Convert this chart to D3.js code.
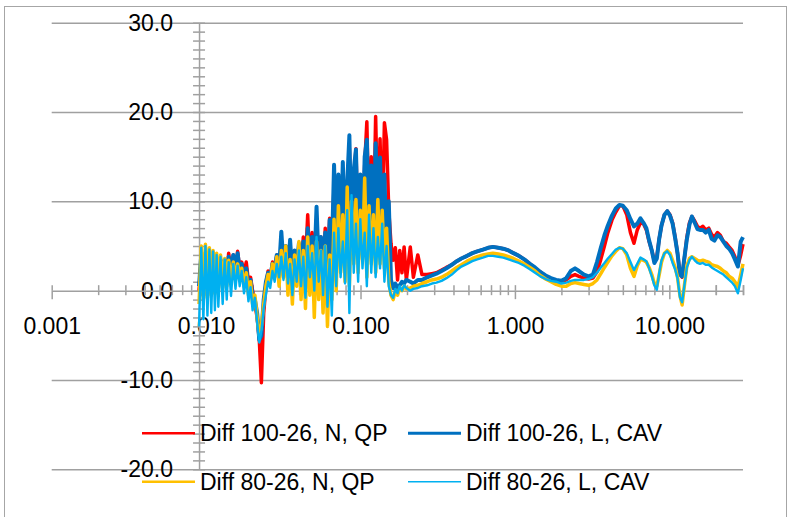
<!DOCTYPE html>
<html>
<head>
<meta charset="utf-8">
<script src="https://cdn.jsdelivr.net/npm/d3@7"></script>
<style>
  body { margin: 0; background: #fff; }
  svg { display: block; }
  text { font-family: "Liberation Sans", Arial, sans-serif; fill: #000; }
</style>
</head>
<body>
<div id="chart"></div>
<script>
// frequencies (MHz), noisy low band then the smoother upper band
var freq = [
  0.0090, 0.0093, 0.0096, 0.0099, 0.0102, 0.0105, 0.0108, 0.0111, 0.0114, 0.0117,
  0.0120, 0.0124, 0.0128, 0.0132, 0.0136, 0.0140, 0.0145, 0.0150, 0.0155, 0.0160,
  0.0165, 0.0170, 0.0176, 0.0182, 0.0188, 0.0194, 0.0200, 0.0207, 0.0214, 0.0221,
  0.0228, 0.0236, 0.0244, 0.0252, 0.0260, 0.0269, 0.0278, 0.0287, 0.0297, 0.0307,
  0.0317, 0.0328, 0.0339, 0.0350, 0.0362, 0.0374, 0.0386, 0.0399, 0.0412, 0.0426,
  0.0440, 0.0455, 0.0470, 0.0486, 0.0502, 0.0519, 0.0536, 0.0554, 0.0572, 0.0591,
  0.0611, 0.0631, 0.0652, 0.0674, 0.0696, 0.0719, 0.0743, 0.0768, 0.0794, 0.0820,
  0.0847, 0.0875, 0.0904, 0.0934, 0.0965, 0.0997, 0.1030, 0.1064, 0.1099, 0.1136,
  0.1174, 0.1213, 0.1253, 0.1295, 0.1338, 0.1382, 0.1428, 0.1475, 0.1524, 0.1575,
  0.1627, 0.1681, 0.1737, 0.1795, 0.1855, 0.1916, 0.1980,
  0.21, 0.22, 0.235, 0.25, 0.27, 0.29, 0.31, 0.335, 0.36, 0.39,
  0.42, 0.45, 0.49, 0.53, 0.57, 0.62, 0.67, 0.72, 0.78, 0.84,
  0.91, 0.98, 1.06, 1.15, 1.25, 1.35, 1.46, 1.58, 1.71, 1.85,
  2.0, 2.15, 2.3, 2.45, 2.6, 2.8, 3.0, 3.2, 3.4, 3.6,
  3.8, 4.0, 4.25, 4.5, 4.75, 5.0, 5.3, 5.6, 5.9, 6.2,
  6.5, 6.8, 7.1, 7.4, 7.7, 8.0, 8.3, 8.6, 8.9, 9.3,
  9.7, 10.1, 10.5, 10.9, 11.3, 11.7, 12.1, 12.5, 13.0, 13.5,
  14.0, 14.6, 15.2, 15.8, 16.5, 17.2, 18.0, 18.8, 19.6, 20.5,
  21.4, 22.4, 23.4, 24.4, 25.5, 26.6, 27.8, 29.0, 30.0
];

var diff100N = [
  0.0, 3.5, -0.5, 3.8, 0.0, 3.6, 0.5, 3.5, 0.5, 3.4,
  1.0, 3.2, 1.2, 3.5, 1.5, 4.2, 2.0, 4.0, 2.0, 4.4,
  2.5, 3.2, 2.0, 3.2, 1.0, 1.5, 0.0, -1.5, -3.0, -5.5,
  -10.3, -2.5, 0.5, 2.2, 1.0, 3.2, 2.0, 4.0, 1.5, 5.5,
  2.5, 4.5, 1.0, 5.0, 0.5, 4.0, 2.0, 5.0, 1.5, 6.0,
  3.0, 8.5, 2.5, 6.5, 3.0, 8.0, 2.5, 6.0, 1.5, 7.0,
  2.0, 8.1, 4.0, 12.0, 4.5, 11.5, 5.0, 13.0, 5.5, 11.0,
  16.0, 6.0, 12.0, 15.9, 5.5, 12.5, 6.0, 14.0, 18.9, 7.0,
  15.0, 6.5, 19.5, 8.0, 17.0, 6.5, 18.8, 16.9, 9.0, 5.3,
  3.4, 4.8, 1.2, 4.5, 2.0, 4.9, 1.2,
  4.9, 1.5, 4.0, 1.8, 1.8, 1.9, 2.0, 2.3, 2.6, 2.9,
  3.3, 3.6, 3.9, 4.2, 4.4, 4.6, 4.8, 4.9, 4.8, 4.7,
  4.5, 4.2, 3.9, 3.5, 3.0, 2.5, 2.1, 1.6, 1.3, 1.0,
  1.0, 1.2, 1.6, 1.8, 1.6, 1.4, 1.3, 1.4, 2.1, 3.5,
  5.0, 6.5, 7.9, 8.8, 9.5, 9.5, 8.5, 6.5, 5.3, 6.8,
  7.6, 7.5, 6.8, 5.5, 4.5, 3.3, 3.8, 5.8, 7.3, 8.5,
  8.9, 8.5, 7.6, 6.0, 4.2, 2.0, 1.5, 3.5, 6.0, 7.6,
  8.3, 7.8, 7.2, 7.0, 7.2, 6.8, 7.0, 6.3, 6.0, 6.5,
  6.2, 5.5, 5.3, 4.9, 4.5, 3.8, 2.8, 4.0, 5.2
];

var diff100L = [
  0.5, 4.0, -0.5, 4.2, 0.0, 4.0, 0.5, 3.8, 0.8, 3.6,
  1.0, 3.5, 1.2, 3.4, 1.5, 3.8, 1.8, 4.0, 2.0, 4.2,
  2.2, 3.0, 1.5, 2.5, 0.5, 1.2, -0.5, -1.0, -2.5, -5.5,
  -5.0, -1.0, 1.0, 2.0, 1.5, 3.0, 2.5, 4.0, 2.5, 6.6,
  3.0, 5.0, 2.0, 5.7, 1.5, 4.5, 2.5, 5.3, 2.0, 5.5,
  1.5, 7.0, 3.0, 6.0, 2.5, 9.4, 3.0, 6.0, 2.0, 6.5,
  1.5, 7.9, 4.0, 14.1, 5.0, 13.0, 4.5, 14.4, 6.0, 12.0,
  17.4, 5.0, 13.5, 15.8, 6.0, 13.0, 5.5, 15.0, 16.9, 6.5,
  14.0, 5.0, 16.5, 7.0, 14.9, 5.5, 13.0, 4.0, 10.0, 1.2,
  0.3, 0.8, 0.3, 0.6, 1.0, 0.8, 1.2,
  1.0, 0.8, 1.2, 1.2, 1.5, 1.7, 1.9, 2.2, 2.5, 2.9,
  3.3, 3.6, 3.9, 4.2, 4.4, 4.6, 4.8, 4.9, 4.8, 4.7,
  4.5, 4.2, 3.9, 3.5, 3.0, 2.6, 2.1, 1.7, 1.4, 1.2,
  1.1, 1.4, 2.2, 2.5, 2.2, 1.8, 1.6, 1.8, 3.2, 4.8,
  6.2, 7.3, 8.4, 9.2, 9.6, 9.5, 9.0, 8.0, 7.2, 7.5,
  8.1, 7.6, 7.0, 5.6, 4.5, 3.1, 3.6, 5.8, 7.3, 8.5,
  8.9, 8.4, 7.5, 5.9, 4.2, 1.8, 1.6, 3.6, 5.8, 7.4,
  8.3, 7.6, 6.9, 6.8, 6.8, 6.5, 6.8, 5.8, 5.6, 6.2,
  6.0, 5.5, 5.0, 4.7, 4.2, 3.5, 2.7, 5.5, 6.0
];

var diff80N = [
  -1.5, 5.0, -1.0, 5.2, -0.8, 4.8, -0.5, 4.5, -0.3, 4.2,
  0.0, 4.0, 0.3, 3.6, 0.5, 3.4, 0.8, 3.2, 1.2, 3.0,
  1.5, 2.5, 0.5, 2.0, -0.5, 1.0, -1.5, -0.5, -3.0, -5.0,
  -4.0, -1.5, 0.5, 1.8, 1.0, 3.0, 1.5, 3.8, 0.5, 4.5,
  1.5, 5.0, -0.5, 3.5, -1.5, 4.0, 0.5, 5.5, -1.0, 4.5,
  -2.0, 6.0, -0.5, 5.0, -3.0, 5.5, -1.0, 4.5, -2.5, 5.0,
  -4.0, 4.0, -1.0, 8.0, 0.0, 9.5, 2.0, 8.5, 1.0, 11.6,
  0.5, 10.0, 3.0, 10.2, 2.0, 9.0, 3.5, 12.6, 1.5, 9.5,
  3.0, 8.5, 2.0, 10.2, 3.0, 9.0, 2.5, 7.0, 1.0, -0.5,
  -1.0, 0.0, -0.5, 0.3, 0.0, 0.5, 0.2,
  0.3, 0.5, 0.6, 0.8, 1.0, 1.2, 1.3, 1.5, 1.8, 2.2,
  2.6, 2.9, 3.3, 3.6, 3.8, 4.0, 4.1, 4.2, 4.1, 4.0,
  3.8, 3.6, 3.3, 3.0, 2.6, 2.2, 1.7, 1.3, 1.0, 0.7,
  0.5, 0.5, 0.8, 0.9, 0.8, 0.7, 0.6, 0.8, 1.2, 1.9,
  2.6, 3.2, 3.9, 4.4, 4.8, 4.7, 4.0, 2.5, 1.6, 2.8,
  3.5, 3.4, 3.2, 2.6, 1.8, 0.8, 0.5, 1.8, 3.2, 4.2,
  4.5, 4.2, 3.4, 2.6, 1.5, -0.5, -1.6, 0.5, 2.8, 3.6,
  3.8, 3.6, 3.4, 3.3, 3.4, 3.3, 3.2, 2.9, 2.8, 2.7,
  2.5, 2.2, 2.0, 1.6, 1.4, 1.0, 0.4, 1.8, 3.0
];

var diff80L = [
  -4.0, 4.8, -3.2, 5.0, -2.8, 4.6, -2.5, 4.4, -2.2, 4.0,
  -1.8, 3.8, -1.5, 3.5, -1.0, 3.2, -0.6, 3.0, 0.2, 2.8,
  0.5, 2.2, -0.3, 1.5, -1.2, 0.4, -2.2, -0.8, -3.5, -5.8,
  -4.5, -2.0, -0.5, 1.0, 0.3, 2.2, 1.0, 3.0, 1.5, 3.8,
  1.2, 4.2, 0.8, 3.0, -0.5, 3.5, 1.0, 4.5, 0.5, 3.8,
  -0.8, 5.0, 1.5, 4.2, 0.0, 6.0, 1.0, 4.5, -0.5, 5.0,
  -1.8, 3.5, -2.8, 6.5, 0.5, 7.0, 1.5, 5.5, 0.8, 9.0,
  -2.5, 10.7, 2.0, 7.5, 1.0, 8.0, 2.5, 6.5, 0.5, 8.5,
  2.0, 7.0, 1.5, 6.0, 2.5, 7.5, 1.0, 5.0, 0.5, -0.5,
  -0.8, 0.2, -0.3, 0.5, 0.0, 0.6, 0.3,
  0.0, 0.2, 0.3, 0.5, 0.6, 0.8, 0.9, 1.1, 1.4, 1.8,
  2.3, 2.7, 3.0, 3.3, 3.5, 3.7, 3.9, 3.9, 3.8, 3.7,
  3.5, 3.3, 3.1, 2.8, 2.4, 2.0, 1.6, 1.3, 1.1, 1.0,
  0.8, 0.9, 1.1, 1.2, 1.2, 1.2, 1.3, 1.5, 2.0, 2.6,
  3.1, 3.6, 4.1, 4.6, 4.8, 4.7, 4.2, 3.2, 2.3, 3.0,
  3.7, 3.5, 3.3, 2.5, 1.6, 0.6, 0.1, 2.0, 3.4, 4.2,
  4.4, 4.0, 3.1, 2.4, 1.4, -0.7, -1.3, 0.5, 2.6, 3.4,
  3.8, 3.4, 3.1, 3.0, 3.1, 2.9, 2.9, 2.6, 2.4, 2.2,
  2.0, 1.8, 1.5, 1.2, 0.9, 0.5, -0.3, 1.2, 2.5
];

var seriesNames = ["Diff 100-26, N, QP", "Diff 100-26, L, CAV", "Diff 80-26, N, QP", "Diff 80-26, L, CAV"];
var seriesValues = [diff100N, diff100L, diff80N, diff80L];
var seriesColors = ["#ff0000", "#0070c0", "#ffc000", "#00b0f0"];
var seriesWidths = [3.5, 4, 3.5, 2.4];
var legendWidths = [2.5, 3, 2.5, 1.5];

var xMajorTicks = [0.001, 0.01, 0.1, 1, 10];
var yMajorTicks = [-20, -10, 0, 10, 20, 30];
var yCross = 0.009;   // vertical axis sits here

var W = 789, H = 517;
var svg = d3.select("#chart").append("svg")
  .attr("width", W).attr("height", H);

svg.append("rect")
  .attr("x", 4.5).attr("y", 6.5)
  .attr("width", 782).attr("height", 530)
  .attr("fill", "#fff").attr("stroke", "#a6a6a6").attr("stroke-width", 1);

var x = d3.scaleLog().domain([0.001, 30]).range([51.7, 743]);
var y = d3.scaleLinear().domain([-20, 30]).range([469.3, 22.7]);

var fontSize = 23;
var grey = "#a0a0a0";

// horizontal gridlines
svg.append("g")
  .attr("transform", `translate(${x.range()[0]},0)`)
  .call(d3.axisRight(y).tickValues(yMajorTicks.filter(d => d !== 0))
    .tickSize(x.range()[1] - x.range()[0]).tickFormat(""))
  .call(g => g.select(".domain").remove())
  .call(g => g.selectAll("line").attr("stroke", grey).attr("stroke-width", 1.5));

// x labels
svg.append("g")
  .attr("transform", `translate(0,${y(0)})`)
  .call(d3.axisBottom(x).tickValues(xMajorTicks).tickSize(0).tickPadding(27)
    .tickFormat(d => d.toFixed(3)))
  .call(g => g.select(".domain").remove())
  .call(g => g.selectAll("text").attr("font-size", fontSize).attr("font-family", null));

// y labels
svg.append("g")
  .attr("transform", `translate(${x(yCross)},0)`)
  .call(d3.axisLeft(y).tickValues(yMajorTicks).tickSize(0).tickPadding(26)
    .tickFormat(d => d.toFixed(1)))
  .call(g => g.select(".domain").remove())
  .call(g => g.selectAll("text").attr("font-size", fontSize).attr("font-family", null));

// x axis line with crossing ticks
var xMinor = x.ticks().filter(d => xMajorTicks.indexOf(d) < 0).concat([20, 30]);
function styleTicks(g) {
  g.selectAll("line").attr("stroke", grey).attr("stroke-width", 1.5);
  g.selectAll("text").remove();
}
var xAxisG = svg.append("g").attr("transform", `translate(0,${y(0)})`);
xAxisG.append("g")
  .call(d3.axisBottom(x).tickValues(xMinor).tickSize(4.5).tickSizeOuter(0).tickFormat(""))
  .call(g => g.select(".domain").attr("stroke", grey).attr("stroke-width", 1.5))
  .call(styleTicks);
xAxisG.append("g")
  .call(d3.axisBottom(x).tickValues(xMajorTicks).tickSize(8.5).tickFormat(""))
  .call(g => g.select(".domain").remove())
  .call(styleTicks);
xAxisG.append("g")
  .call(d3.axisTop(x).tickValues(xMinor.concat(xMajorTicks)).tickSize(5.5).tickFormat(""))
  .call(g => g.select(".domain").remove())
  .call(styleTicks);

// y axis line with crossing ticks
var yMinor = d3.range(-20, 31, 1);
var yAxisG = svg.append("g").attr("transform", `translate(${x(yCross)},0)`);
yAxisG.append("g")
  .call(d3.axisLeft(y).tickValues(yMinor).tickSize(6).tickSizeOuter(0).tickFormat(""))
  .call(g => g.select(".domain").attr("stroke", grey).attr("stroke-width", 1.5))
  .call(styleTicks);
yAxisG.append("g")
  .call(d3.axisRight(y).tickValues(yMinor).tickSize(6).tickFormat(""))
  .call(g => g.select(".domain").remove())
  .call(styleTicks);

// series
var line = d3.line()
  .x((d, i) => x(freq[i]))
  .y(d => y(d));

svg.append("g").selectAll("path")
  .data(seriesValues)
  .join("path")
  .attr("d", line)
  .attr("fill", "none")
  .attr("stroke", (d, i) => seriesColors[i])
  .attr("stroke-width", (d, i) => seriesWidths[i])
  .attr("stroke-linejoin", "round");

// legend
var legendPos = [
  {lx: 142, ly: 433.3}, {lx: 408, ly: 433.3},
  {lx: 142, ly: 481.7}, {lx: 408, ly: 481.7}
];
var legend = svg.append("g").selectAll("g")
  .data(seriesNames)
  .join("g")
  .attr("transform", (d, i) => `translate(${legendPos[i].lx},${legendPos[i].ly})`);
legend.append("line")
  .attr("x1", 0).attr("x2", 53)
  .attr("stroke", (d, i) => seriesColors[i])
  .attr("stroke-width", (d, i) => legendWidths[i]);
legend.append("text")
  .attr("x", 58).attr("dy", "0.35em")
  .attr("font-size", fontSize)
  .text(d => d);
</script>
</body>
</html>
